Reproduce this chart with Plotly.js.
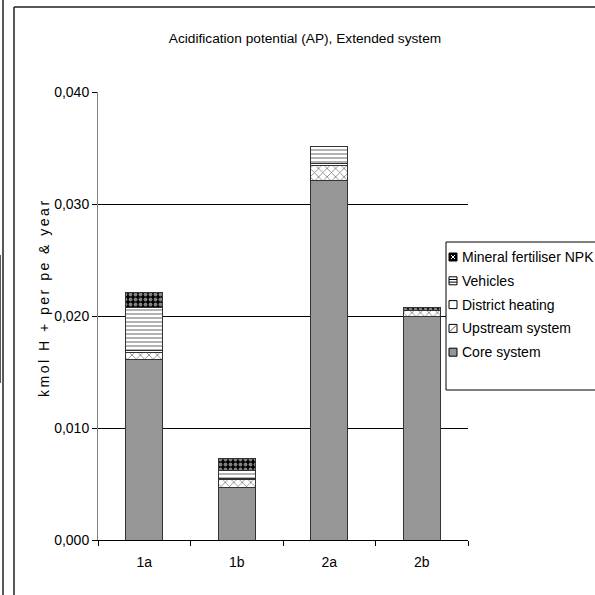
<!DOCTYPE html>
<html>
<head>
<meta charset="utf-8">
<script src="https://cdn.plot.ly/plotly-3.0.1.min.js"></script>
<style>html,body{margin:0;padding:0;background:#fff;}#chart{width:595px;height:595px;}</style>
</head>
<body>
<div id="chart"></div>
<script>
// ---- data ----
var categories = ['1a', '1b', '2a', '2b'];
var coreSystem = [0.0161, 0.0047, 0.0321, 0.0200];
var upstreamSystem = [0.0006, 0.0007, 0.0013, 0.0005];
var districtHeating = [0.0002, 0.0001, 0.0002, 0.0000];
var vehicles = [0.0039, 0.0007, 0.0015, 0.0000];
var mineralFertiliser = [0.0013, 0.0011, 0.0000, 0.0003];
var seriesNames = ['Core system', 'Upstream system', 'District heating', 'Vehicles', 'Mineral fertiliser NPK'];
var yTicks = [0, 0.01, 0.02, 0.03, 0.04];

// ---- layout helpers (pixel -> paper) ----
var L = 98, R = 468, T = 92, B = 540;
function px(x) { return (x - L) / (R - L); }
function py(y) { return (B - y) / (B - T); }

var font = '"Liberation Sans", Arial, sans-serif';
var fs = 14;
var outline = {color: '#333333', width: 1};

function bar(name, vals, color, pattern) {
  var m = {color: color, line: outline};
  if (pattern) m.pattern = pattern;
  return {type: 'bar', name: name, x: categories, y: vals, marker: m, hoverinfo: 'skip', showlegend: false};
}

var traces = [
  bar(seriesNames[0], coreSystem, '#969696', null),
  bar(seriesNames[1], upstreamSystem, '#ffffff', {shape: 'x', fgcolor: '#000000', size: 6, solidity: 0.25, fillmode: 'overlay'}),
  bar(seriesNames[2], districtHeating, '#ffffff', null),
  bar(seriesNames[3], vehicles, '#ffffff', {shape: '-', fgcolor: '#000000', size: 4, solidity: 0.3, fillmode: 'overlay'}),
  bar(seriesNames[4], mineralFertiliser, '#000000', {shape: '.', fgcolor: '#ffffff', size: 5, solidity: 0.45, fillmode: 'overlay'})
];

// ---- hand-drawn legend (box, swatches, labels) ----
var shapes = [];
var annotations = [];
function rectPx(x0, y0, x1, y1, fill, lineColor, lw) {
  shapes.push({type: 'rect', xref: 'paper', yref: 'paper', x0: px(x0), x1: px(x1), y0: py(y0), y1: py(y1),
               fillcolor: fill, line: {color: lineColor, width: lw}, layer: 'above'});
}
function linePx(x0, y0, x1, y1, color, lw) {
  shapes.push({type: 'line', xref: 'paper', yref: 'paper', x0: px(x0), x1: px(x1), y0: py(y0), y1: py(y1),
               line: {color: color, width: lw}, layer: 'above'});
}
// legend box
rectPx(446, 242, 605, 390, '#ffffff', '#000000', 1);
var legendOrder = [4, 3, 2, 1, 0];
var rowY0 = 257, rowStep = 23.8;
legendOrder.forEach(function (si, i) {
  var cy = rowY0 + i * rowStep;
  var x0 = 449, x1 = 457, y0 = cy - 4, y1 = cy + 4;
  if (si === 4) {
    rectPx(x0, y0, x1, y1, '#000000', '#000000', 1);
    linePx(x0 + 2, y0 + 2, x1 - 2, y1 - 2, '#ffffff', 1);
    linePx(x0 + 2, y1 - 2, x1 - 2, y0 + 2, '#ffffff', 1);
  } else if (si === 3) {
    rectPx(x0, y0, x1, y1, '#ffffff', '#000000', 1);
    linePx(x0, cy - 1.3, x1, cy - 1.3, '#000000', 1);
    linePx(x0, cy + 1.3, x1, cy + 1.3, '#000000', 1);
  } else if (si === 2) {
    rectPx(x0, y0, x1, y1, '#ffffff', '#000000', 1);
  } else if (si === 1) {
    rectPx(x0, y0, x1, y1, '#ffffff', '#000000', 1);
    linePx(x0 + 1, y1 - 1, x1 - 1, y0 + 1, '#555555', 1);
  } else {
    rectPx(x0, y0, x1, y1, '#969696', '#000000', 1);
  }
  annotations.push({text: seriesNames[si], showarrow: false, xref: 'paper', yref: 'paper',
                    x: px(460), y: py(cy), xanchor: 'left', yanchor: 'middle',
                    font: {family: font, size: fs, color: '#000'}});
});

// y axis title
annotations.push({
  text: '<span style="letter-spacing:2.5px">kmol H + per pe &amp; year</span>', textangle: -90, showarrow: false,
  xref: 'paper', yref: 'paper', x: px(44), y: py(298), xanchor: 'center', yanchor: 'middle',
  font: {family: font, size: fs, color: '#000'}
});

// outer frames
linePx(14, 7, 14, 600, '#222', 1.5);
linePx(14, 7, 600, 7, '#222', 1.5);
linePx(3, 0, 3, 600, '#222', 1.5);
linePx(0, 255, 0, 383, '#222', 1.5);

var layout = {
  width: 595, height: 595,
  margin: {l: L, r: 595 - R, t: T, b: 595 - B, pad: 0, autoexpand: false},
  paper_bgcolor: '#ffffff', plot_bgcolor: '#ffffff',
  separators: ', ',
  barmode: 'stack',
  bargap: 0.6,
  showlegend: false,
  font: {family: font, size: fs, color: '#000000'},
  title: {text: 'Acidification potential (AP), Extended system', font: {family: font, size: 13.7, color: '#000'},
          x: px(305), xref: 'paper', xanchor: 'center', y: 1 - 38 / 595, yanchor: 'middle'},
  xaxis: {
    type: 'category', tickvals: categories, ticktext: categories,
    showline: true, linecolor: '#000000', linewidth: 1,
    ticks: 'outside', tickson: 'boundaries', ticklen: 5, tickcolor: '#000000',
    ticklabelstandoff: 9,
    showgrid: false, zeroline: false, fixedrange: true,
    tickfont: {family: font, size: fs, color: '#000'}
  },
  yaxis: {
    range: [0, 0.04], tickvals: yTicks, tickformat: '.3f',
    showline: true, linecolor: '#808080', linewidth: 1,
    ticks: 'outside', ticklen: 5, tickcolor: '#000000',
    showgrid: true, gridcolor: '#000000', gridwidth: 1,
    zeroline: false, fixedrange: true,
    tickfont: {family: font, size: fs, color: '#000'}
  },
  annotations: annotations,
  shapes: shapes
};

Plotly.newPlot('chart', traces, layout, {staticPlot: true, displayModeBar: false});
</script>
</body>
</html>
